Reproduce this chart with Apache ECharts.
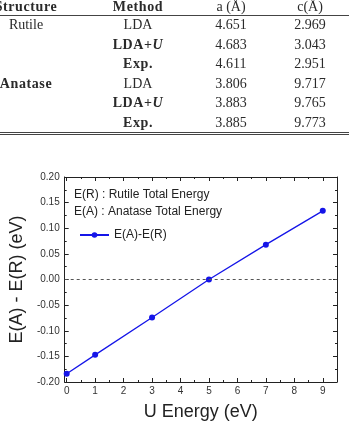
<!DOCTYPE html>
<html>
<head>
    <meta charset="utf-8">
    <title>TiO2 lattice and E(A)-E(R)</title>
    <script src="https://cdn.jsdelivr.net/npm/echarts@6/dist/echarts.min.js"></script>
<style>
    body{
        margin: 0;
        background: #fff;
    }
    #chart{
        position: absolute;
        left: 0;
        top: 0;
        width: 349px;
        height: 424px;
    }
    #tbl{
        position: absolute;
        left: 0;
        top: 0;
        width: 349px;
        height: 140px;
        z-index: 2;
        font-family: "Liberation Serif", "DejaVu Serif", serif;
        font-size: 14px;
        color: #2a2a2a;
        overflow: hidden;
    }
    .cell{
        position: absolute;
        width: 120px;
        text-align: center;
        line-height: 16px;
        white-space: nowrap;
    }
    .cell.b{
        font-weight: bold;
        letter-spacing: 0.6px;
    }
    .rule{
        position: absolute;
        left: 0;
        width: 349px;
        height: 1px;
        background: #444;
    }
</style>
</head>
<body>
<div id="tbl"></div>
<div id="chart"></div>

<script>
    // table data
    var tableHeader = ['Structure', 'Method', 'a (Å)', 'c(Å)'];
    var structures = ['Rutile', '', '', 'Anatase', '', ''];
    var methods = ['LDA', 'LDA+U', 'Exp.', 'LDA', 'LDA+U', 'Exp.'];
    var aValues = [4.651, 4.683, 4.611, 3.806, 3.883, 3.885];
    var cValues = [2.969, 3.043, 2.951, 9.717, 9.765, 9.773];

    // chart data
    var uEnergy = [0, 1, 3, 5, 7, 9];
    var diffEnergy = [-0.184, -0.147, -0.074, 0.0, 0.068, 0.134];
    var xTicks = [0, 1, 2, 3, 4, 5, 6, 7, 8, 9];
    var xMinorTicks = [0.5, 1.5, 2.5, 3.5, 4.5, 5.5, 6.5, 7.5, 8.5, 9.5];
    var notes = ['E(R) : Rutile Total Energy', 'E(A) : Anatase Total Energy'];

    function buildTable() {
        var box = document.getElementById('tbl');
        var centers = [26, 138, 231, 310];
        var html = '';
        function cell(x, y, text, bold) {
            return '<div class="cell' + (bold ? ' b' : '') + '" style="left:' + (x - 60) + 'px;top:' + (y - 8) + 'px;">' +
                text + '</div>';
        }
        html += cell(centers[0], 7, tableHeader[0], true);
        html += cell(centers[1], 7, tableHeader[1], true);
        html += cell(centers[2], 7, tableHeader[2], false);
        html += cell(centers[3], 7, tableHeader[3], false);
        for (var i = 0; i < methods.length; i++) {
            var y = 25 + i * 19.6;
            html += cell(centers[0], y, structures[i], structures[i] === 'Anatase');
            var m = methods[i].replace('U', '<i>U</i>');
            html += cell(centers[1], y, m, methods[i] !== 'LDA');
            html += cell(centers[2], y, aValues[i].toFixed(3), false);
            html += cell(centers[3], y, cValues[i].toFixed(3), false);
        }
        html += '<div class="rule" style="top:15px"></div>';
        html += '<div class="rule" style="top:132px"></div>';
        html += '<div class="rule" style="top:134px"></div>';
        box.innerHTML = html;
    }

    function drawChart() {
        var myChart = echarts.init(document.getElementById('chart'));
        var axisColor = '#222';
        var blue = '#1515e8';
        var font = 'Liberation Sans';

        function xAxisDef(pos, major, labels) {
            return {
                type: 'value',
                position: pos,
                min: -0.07,
                max: 9.5,
                axisLine: {show: major, onZero: false, lineStyle: {color: axisColor, width: 1}},
                axisTick: {
                    show: true,
                    inside: true,
                    length: major ? 4 : 2,
                    customValues: major ? xTicks : xMinorTicks,
                    lineStyle: {color: axisColor}
                },
                axisLabel: {
                    show: labels,
                    customValues: xTicks,
                    fontSize: 10,
                    color: '#333',
                    fontFamily: font,
                    margin: 4
                },
                splitLine: {show: false},
                name: labels ? 'U Energy (eV)' : '',
                nameLocation: 'middle',
                nameGap: 21,
                nameTextStyle: {fontSize: 18, color: '#222', fontFamily: font}
            };
        }

        function yAxisDef(pos, labels) {
            return {
                type: 'value',
                position: pos,
                min: -0.2,
                max: 0.2,
                interval: 0.05,
                axisLine: {show: true, onZero: false, lineStyle: {color: axisColor, width: 1}},
                axisTick: {show: true, inside: true, length: 4, lineStyle: {color: axisColor}},
                minorTick: {show: true, splitNumber: 2, length: 2, lineStyle: {color: axisColor}},
                axisLabel: {
                    show: labels,
                    fontSize: 10,
                    color: '#333',
                    fontFamily: font,
                    margin: 5,
                    formatter: function (v) { return v.toFixed(2); }
                },
                splitLine: {show: false},
                name: labels ? 'E(A) - E(R) (eV)' : '',
                nameLocation: 'middle',
                nameGap: 32,
                nameTextStyle: {fontSize: 18, color: '#222', fontFamily: font}
            };
        }

        var option = {
            animation: false,
            grid: {left: 57, right: 12, top: 177, bottom: 42, containLabel: false},
            xAxis: [
                xAxisDef('bottom', true, true),
                xAxisDef('bottom', false, false),
                xAxisDef('top', true, false),
                xAxisDef('top', false, false)
            ],
            yAxis: [
                yAxisDef('left', true),
                yAxisDef('right', false)
            ],
            legend: {
                left: 74,
                top: 224,
                itemWidth: 29,
                itemHeight: 7,
                itemGap: 5,
                textStyle: {fontSize: 12, color: '#222', fontFamily: font},
                data: ['E(A)-E(R)']
            },
            graphic: notes.map(function (t, i) {
                return {
                    type: 'text',
                    left: 74,
                    top: 189 + i * 17,
                    style: {text: t, fontSize: 12, fill: '#222', fontFamily: font}
                };
            }),
            series: [{
                name: 'E(A)-E(R)',
                type: 'line',
                xAxisIndex: 0,
                yAxisIndex: 0,
                data: uEnergy.map(function (u, i) { return [u, diffEnergy[i]]; }),
                symbol: 'circle',
                symbolSize: 6,
                itemStyle: {color: blue},
                lineStyle: {color: blue, width: 1.3},
                markLine: {
                    silent: true,
                    symbol: 'none',
                    label: {show: false},
                    lineStyle: {color: '#555', type: [3, 3], width: 1},
                    data: [{yAxis: 0}]
                }
            }]
        };
        myChart.setOption(option);
    }

    buildTable();
    drawChart();
</script>
</body>
</html>
